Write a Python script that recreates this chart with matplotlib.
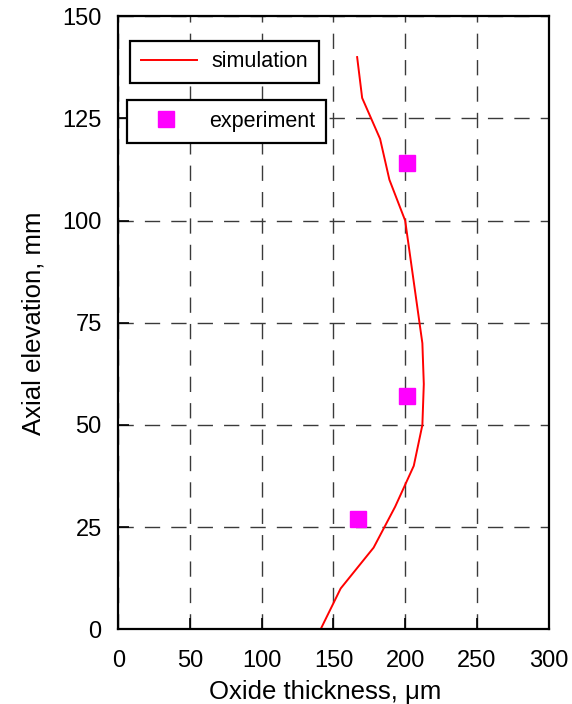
import matplotlib.pyplot as plt

plt.rcParams['font.family'] = ['Liberation Sans', 'DejaVu Sans']

# simulated oxide profile along the rod
sim_elevation = [0, 10, 20, 30, 40, 50, 60, 70, 80, 90, 100, 110, 120, 130, 140]
sim_thickness = [141, 155, 178, 193, 206, 212, 213, 212, 208, 204, 200, 189, 182.5, 170, 166.5]

# measured points
exp_elevation = [27, 57, 114]
exp_thickness = [167, 201, 201.5]

x_ticks = [0, 50, 100, 150, 200, 250, 300]
y_ticks = [0, 25, 50, 75, 100, 125, 150]

fig = plt.figure(figsize=(5.72, 7.04), dpi=100)
ax = fig.add_axes([0.207, 0.106, 0.752, 0.871])

line, = ax.plot(sim_thickness, sim_elevation, color='red', lw=1.4)
pts, = ax.plot(exp_thickness, exp_elevation, ls='none', marker='s', ms=11,
               color='magenta', mec='magenta')

ax.set_xlim(0, 300)
ax.set_ylim(0, 150)
ax.set_xticks(x_ticks)
ax.set_yticks(y_ticks)
ax.tick_params(direction='in', length=8, width=1.2, labelsize=17)
ax.tick_params(axis='x', pad=15)
ax.tick_params(axis='y', pad=12)
for s in ax.spines.values():
    s.set_linewidth(1.6)

ax.grid(True, color='#3a3a3a', lw=1, dashes=(11, 8))
ax.set_axisbelow(True)

ax.set_xlabel('Oxide thickness, \u03bcm', fontsize=18.5, labelpad=5)
ax.xaxis.set_label_coords(0.481, -0.082)
ax.set_ylabel('Axial elevation, mm', fontsize=18.5, labelpad=12)

# two separate legend boxes
leg_opts = dict(loc='upper left', fontsize=15.5, fancybox=False, framealpha=1,
                edgecolor='black', borderaxespad=0, handletextpad=0.7,
                borderpad=0.5, handlelength=2.6)
leg1 = ax.legend([line], ['simulation'], bbox_to_anchor=(0.027, 0.960), **leg_opts)
leg1.get_frame().set_linewidth(1.6)
ax.add_artist(leg1)
leg2 = ax.legend([pts], ['experiment'], bbox_to_anchor=(0.020, 0.863), **leg_opts)
leg2.get_frame().set_linewidth(1.6)

fig.savefig('out.png', dpi=100)
